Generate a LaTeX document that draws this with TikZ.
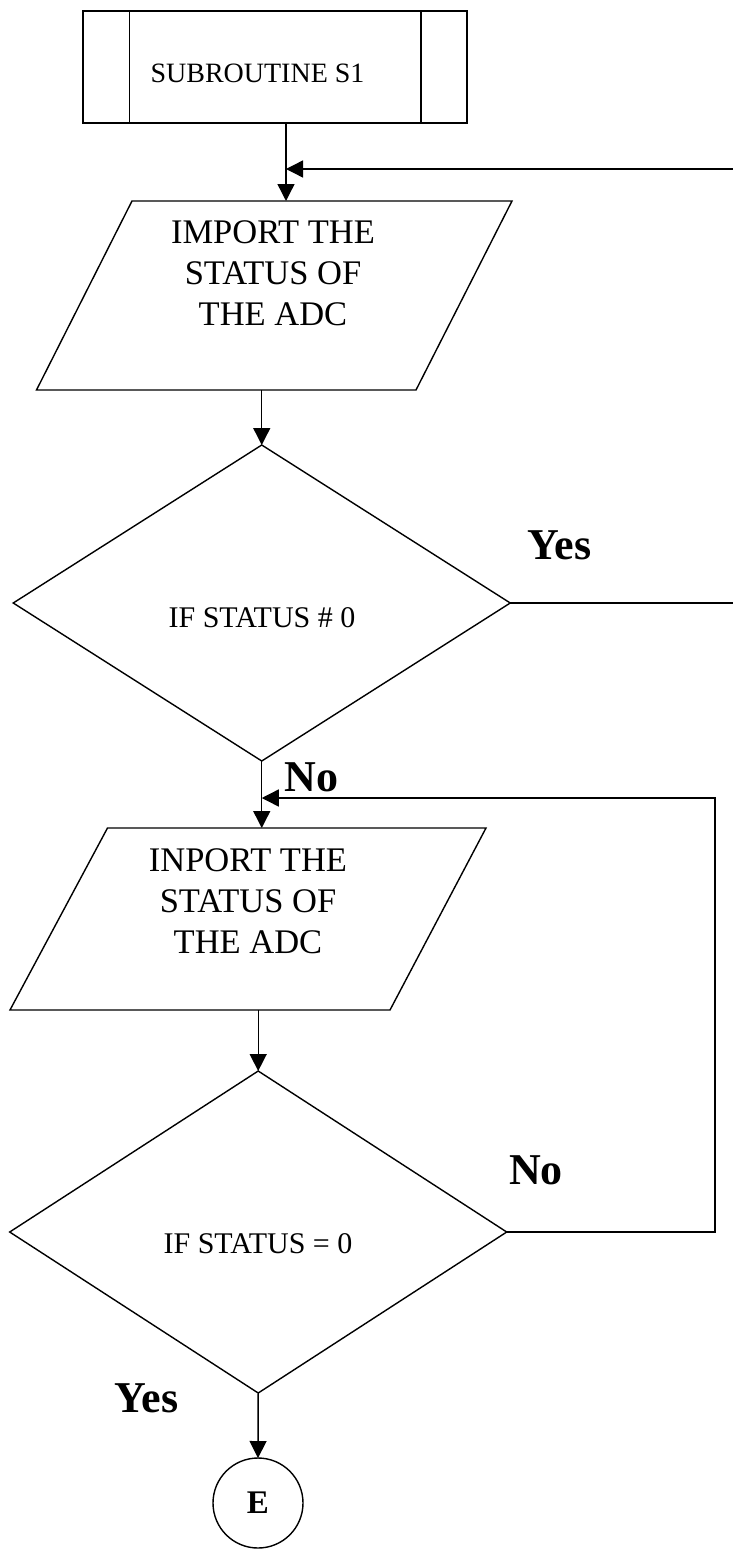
\documentclass[tikz,border=0pt]{standalone}
\usepackage{fontspec}
\setmainfont{Liberation Serif}
\usetikzlibrary{shapes.geometric,arrows.meta,calc}
\begin{document}
\begin{tikzpicture}[x=1pt,y=-1pt,
  line width=1.4pt,
  every node/.style={inner sep=0pt, outer sep=0pt},
  subbox/.style={draw, rectangle, minimum width=384pt, minimum height=112pt},
  testbox/.style={draw, diamond, minimum width=497pt},
  endbox/.style={draw, circle, minimum size=90pt, font=\bfseries\fontsize{33}{33}\selectfont},
  flow/.style={-{Triangle[length=17pt,width=17pt]}},
  subtxt/.style={font=\fontsize{28}{34}\selectfont},
  iotxt/.style={font=\fontsize{34.5}{41}\selectfont, align=center},
  testtxt/.style={font=\fontsize{30}{36}\selectfont},
  answer/.style={font=\bfseries\fontsize{44}{50}\selectfont}
]
\useasboundingbox (0,0) rectangle (733,1552);

% subroutine header with its two side bars
\node[subbox] (sub) at (274.9,67) {};
\draw ([xshift=46.3pt]sub.north west) -- ([xshift=46.3pt]sub.south west);
\draw ([xshift=-46pt]sub.north east) -- ([xshift=-46pt]sub.south east);
\node[subtxt] (subt) at (257.5,73) {SUBROUTINE S1};

% first read of the ADC status (parallelogram)
\coordinate (imptop) at (274,201);
\coordinate (impbot) at (274,390);
\draw (132,201) -- (512,201) -- (416,390) -- (36.5,390) -- cycle;
\node[iotxt] (impt) at (273,273) {IMPORT THE\\STATUS OF\\THE ADC};

% first test
\node[testbox, minimum height=316pt] (chk1) at (261.75,603) {};
\node[testtxt] (chk1t) at (262,618) {IF STATUS \# 0};

% second read of the ADC status (parallelogram)
\coordinate (inptop) at (248,828);
\coordinate (inpbot) at (248,1010);
\draw (107.5,828) -- (486,828) -- (390,1010) -- (10,1010) -- cycle;
\node[iotxt] (inpt) at (248,901.5) {INPORT THE\\STATUS OF\\THE ADC};

% second test
\node[testbox, minimum height=322pt] (chk2) at (258.2,1232) {};
\node[testtxt] (chk2t) at (258,1244) {IF STATUS = 0};

% exit connector
\node[endbox] (fin) at (258,1503) {E};

% branch labels
\node[answer] (yes1) at (559.5,545) {Yes};
\node[answer] (no1) at (311.5,777) {No};
\node[answer] (no2) at (536,1170) {No};
\node[answer] (yes2) at (146.5,1398.5) {Yes};

% connectors
\coordinate (spine) at (286,0);
\coordinate (loopin) at (733,169);
\coordinate (yesout) at (733,606);
\coordinate (loopx) at (715,798);

\draw[flow] (sub.south -| spine) -- (imptop -| spine);
\draw[flow] (loopin) -- (loopin -| spine);
\draw[flow] (impbot -| chk1.north) -- (chk1.north);
\draw (chk1.east) -- (chk1.east -| yesout);
\draw[flow] (chk1.south) -- (chk1.south |- inptop);
\draw[flow] (chk2.east) -| (loopx) -- (loopx -| chk1.south);
\draw[flow] (inpbot -| chk2.north) -- (chk2.north);
\draw[flow] (chk2.south) -- (fin.north);
\end{tikzpicture}
\end{document}
